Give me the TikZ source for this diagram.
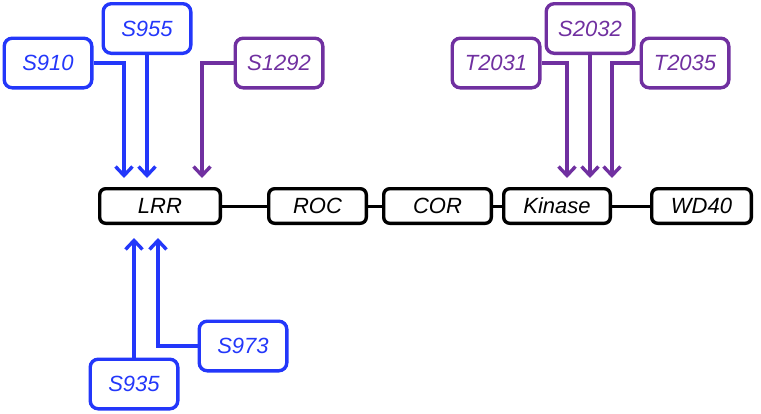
\documentclass[tikz,border=0pt]{standalone}
\usepackage{fontspec}
\setmainfont{Liberation Sans}
\usetikzlibrary{arrows.meta}
\definecolor{siteblue}{RGB}{35,55,250}
\definecolor{sitepurple}{RGB}{112,48,160}
\tikzset{
	domainbox/.style={draw=black,line width=3.4pt,rounded corners=6pt,
		minimum height=34.6pt,inner sep=0pt,
		font=\itshape\fontsize{22}{26}\selectfont},
	sitebox/.style={draw=#1,text=#1,line width=3.4pt,rounded corners=8pt,
		minimum width=87.6pt,minimum height=49.6pt,inner sep=0pt,
		font=\itshape\fontsize{22}{26}\selectfont},
	link/.style={line width=3pt},
	siteline/.style={draw=#1,line width=3.4pt,
		-{Straight Barb[length=9pt,width=17pt]}}
}
\begin{document}
\begin{tikzpicture}[x=1pt,y=-1pt]
	\useasboundingbox (0,0) rectangle (761,413);
	
	% domains
	\node[domainbox,minimum width=120.6pt] (lrr) at (160,206) {LRR};
	\node[domainbox,minimum width=97.6pt] (roc) at (317.5,206) {ROC};
	\node[domainbox,minimum width=107.6pt] (cor) at (437.5,206) {COR};
	\node[domainbox,minimum width=106.6pt] (kin) at (557,206) {Kinase};
	\node[domainbox,minimum width=99.6pt] (wd) at (701.5,206) {WD40};
	
	\draw[link](lrr)--(roc);
	\draw[link](roc)--(cor);
	\draw[link](cor)--(kin);
	\draw[link](kin)--(wd);
	
	% sites above
	\node[sitebox=siteblue] (s910) at (48,63) {S910};
	\node[sitebox=siteblue] (s955) at (147,28.5) {S955};
	\node[sitebox=sitepurple] (s1292) at (279,63) {S1292};
	\node[sitebox=sitepurple] (t2031) at (496,63) {T2031};
	\node[sitebox=sitepurple] (s2032) at (590,28.5) {S2032};
	\node[sitebox=sitepurple] (t2035) at (685,63) {T2035};
	
	% sites below
	\node[sitebox=siteblue] (s935) at (134,384) {S935};
	\node[sitebox=siteblue] (s973) at (243,346) {S973};
	
	\draw[siteline=siteblue,shorten >=9pt](s910.east)-|([xshift=-36pt]lrr.north);
	\draw[siteline=siteblue,shorten >=9pt](s955.south)--(s955.south|-lrr.north);
	\draw[siteline=sitepurple,shorten >=9pt](s1292.west)-|([xshift=42pt]lrr.north);
	
	\draw[siteline=sitepurple,shorten >=9pt](t2031.east)-|([xshift=10pt]kin.north);
	\draw[siteline=sitepurple,shorten >=9pt](s2032.south)--(s2032.south|-kin.north);
	\draw[siteline=sitepurple,shorten >=9pt](t2035.west)-|([xshift=55pt]kin.north);
	
	\draw[siteline=siteblue,shorten >=13pt](s935.north)--(s935.north|-lrr.south);
	\draw[siteline=siteblue,shorten >=13pt](s973.west)-|([xshift=-2pt]lrr.south);
\end{tikzpicture}
\end{document}
